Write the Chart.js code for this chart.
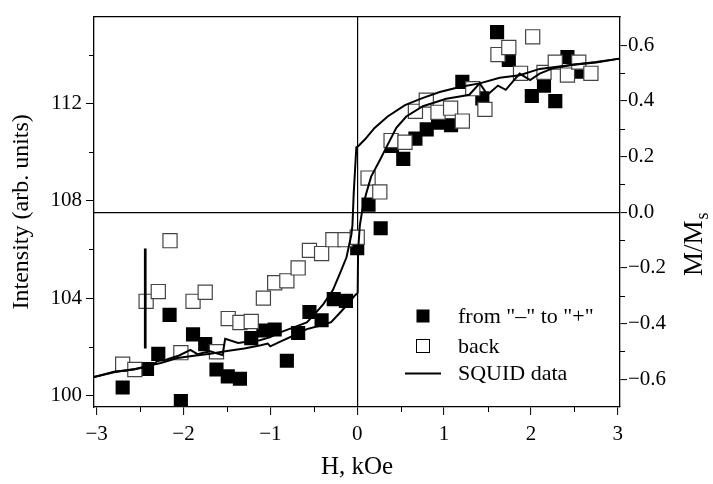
<!DOCTYPE html>
<html>
<head>
<meta charset="utf-8">
<script src="https://cdn.jsdelivr.net/npm/chart.js@4"></script>
<style>
body { margin: 0; background: #fff; }
#wrap { width: 713px; height: 484px; }
</style>
</head>
<body>
<div id="wrap"><canvas id="myChart" width="713" height="484"></canvas></div>
<script>
// filled squares, field swept from "-" to "+"
const upH = [-2.70, -2.42, -2.29, -2.16, -2.03, -1.89, -1.75, -1.62, -1.49, -1.35, -1.22, -1.08, -0.95, -0.81, -0.68, -0.55, -0.41, -0.27, -0.13, 0.00, 0.13, 0.27, 0.40, 0.53, 0.67, 0.80, 0.93, 1.08, 1.21, 1.44, 1.61, 1.745, 2.01, 2.15, 2.28, 2.42, 2.55];
const upI = [100.33, 101.09, 101.71, 103.31, 99.77, 102.51, 102.11, 101.07, 100.79, 100.69, 102.36, 102.67, 102.71, 101.43, 102.57, 103.43, 103.09, 103.96, 103.89, 106.05, 107.84, 106.87, 110.25, 109.72, 110.55, 110.93, 111.2, 111.1, 112.88, 112.2, 114.92, 113.78, 112.3, 112.72, 112.09, 113.9, 113.3];

// open squares, field swept back
const backH = [-2.70, -2.56, -2.43, -2.29, -2.155, -2.03, -1.89, -1.75, -1.62, -1.485, -1.35, -1.22, -1.08, -0.95, -0.81, -0.68, -0.55, -0.41, -0.28, -0.14, 0.00, 0.125, 0.26, 0.39, 0.55, 0.67, 0.795, 0.93, 1.075, 1.21, 1.33, 1.47, 1.62, 1.745, 1.88, 2.02, 2.15, 2.28, 2.42, 2.55, 2.69];
const backI = [101.29, 101.07, 103.87, 104.27, 106.36, 101.76, 103.87, 104.24, 101.8, 103.16, 103.0, 103.04, 104.0, 104.63, 104.71, 105.24, 105.96, 105.83, 106.4, 106.4, 106.5, 108.93, 108.36, 110.47, 110.4, 111.67, 112.13, 111.63, 111.8, 111.27, 112.6, 111.75, 114.0, 114.29, 113.23, 114.73, 113.27, 113.69, 113.16, 113.69, 113.23];

// SQUID loop (M/Ms), branch going from +3 down to -3
const sqDownH = [3.02, 2.75, 2.48, 2.10, 1.87, 1.64, 1.41, 1.18, 0.95, 0.75, 0.55, 0.35, 0.20, 0.09, 0.02, -0.01, -0.04, -0.055, -0.067, -0.124, -0.20, -0.28, -0.39, -0.50, -0.58, -0.73, -0.88, -1.00, -1.12, -1.23, -1.37, -1.52, -1.55, -1.64, -1.69, -1.77, -1.84, -1.92, -2.05, -2.2, -2.3, -2.38, -2.6, -2.8, -3.03];
const sqDownM = [0.552, 0.540, 0.530, 0.515, 0.492, 0.483, 0.463, 0.450, 0.432, 0.410, 0.385, 0.344, 0.303, 0.262, 0.240, 0.233, 0.07, -0.047, -0.08, -0.163, -0.221, -0.28, -0.33, -0.37, -0.396, -0.414, -0.431, -0.449, -0.46, -0.464, -0.47, -0.455, -0.513, -0.505, -0.50, -0.505, -0.51, -0.495, -0.515, -0.53, -0.535, -0.555, -0.565, -0.575, -0.592];

// SQUID loop, branch going from -3 up to +3
const sqUpH = [-3.03, -2.8, -2.57, -2.42, -2.26, -2.07, -1.88, -1.69, -1.50, -1.30, -1.11, -1.03, -1.00, -0.88, -0.73, -0.58, -0.41, -0.30, -0.18, -0.08, -0.03, 0.005, 0.01, 0.03, 0.067, 0.106, 0.16, 0.26, 0.335, 0.45, 0.565, 0.756, 1.025, 1.18, 1.29, 1.41, 1.50, 1.62, 1.71, 1.87, 1.99, 2.10, 2.25, 2.48, 2.75, 3.02];
const sqUpM = [-0.592, -0.573, -0.565, -0.553, -0.542, -0.524, -0.516, -0.509, -0.499, -0.49, -0.478, -0.472, -0.482, -0.464, -0.443, -0.42, -0.406, -0.395, -0.355, -0.32, -0.30, -0.29, -0.14, -0.047, 0.023, 0.07, 0.128, 0.187, 0.233, 0.303, 0.344, 0.381, 0.408, 0.416, 0.422, 0.463, 0.422, 0.455, 0.44, 0.498, 0.475, 0.498, 0.517, 0.530, 0.538, 0.552];

// error bar
const errH = [-2.44, -2.44];
const errI = [101.93, 106.04];

// ticks
const xTicks = [-3, -2, -1, 0, 1, 2, 3];
const xMinor = [-2.5, -1.5, -0.5, 0.5, 1.5, 2.5];
const leftTicks = [100, 104, 108, 112];
const leftMinor = [102, 106, 110, 114];
const rightTicks = [-0.6, -0.4, -0.2, 0, 0.2, 0.4, 0.6];
const rightMinor = [-0.5, -0.3, -0.1, 0.1, 0.3, 0.5];

const legendLabels = ['from "\u2013" to "+"', 'back', 'SQUID data'];

const FONT = "'Liberation Serif', 'Times New Roman', serif";
Chart.defaults.font.family = FONT;
Chart.defaults.color = '#000';

function pts(xs, ys) {
  return xs.map((x, i) => ({ x: x, y: ys[i] }));
}
function minus(s, v) {
  return (v < 0 ? '\u2212' : '') + s;
}
function zeroLine(c) {
  return c.tick && c.tick.value === 0 ? '#000' : 'rgba(0,0,0,0)';
}

const extras = {
  id: 'extras',
  afterDraw(chart) {
    const ctx = chart.ctx;
    const a = chart.chartArea;
    const sx = chart.scales.x, sy = chart.scales.y, sy2 = chart.scales.y2;
    ctx.save();
    ctx.strokeStyle = '#000';
    ctx.lineWidth = 1.3;
    ctx.beginPath();
    ctx.moveTo(a.left - 0.6, a.top);
    ctx.lineTo(a.right + 0.6, a.top);
    ctx.stroke();

    // minor ticks
    ctx.lineWidth = 1;
    ctx.beginPath();
    xMinor.forEach(v => {
      const p = Math.round(sx.getPixelForValue(v)) + 0.5;
      ctx.moveTo(p, a.bottom); ctx.lineTo(p, a.bottom + 5);
    });
    leftMinor.forEach(v => {
      const p = Math.round(sy.getPixelForValue(v)) + 0.5;
      ctx.moveTo(a.left - 5, p); ctx.lineTo(a.left, p);
    });
    rightMinor.forEach(v => {
      const p = Math.round(sy2.getPixelForValue(v)) + 0.5;
      ctx.moveTo(a.right, p); ctx.lineTo(a.right + 5, p);
    });
    ctx.stroke();

    // right axis title M/Ms
    ctx.fillStyle = '#000';
    ctx.translate(702, 276);
    ctx.rotate(-Math.PI / 2);
    ctx.font = '27px ' + FONT;
    ctx.textBaseline = 'alphabetic';
    ctx.textAlign = 'left';
    ctx.fillText('M/M', 0, 0);
    const w = ctx.measureText('M/M').width;
    ctx.font = '18px ' + FONT;
    ctx.fillText('s', w + 1, 6);
    ctx.restore();

    // legend
    ctx.save();
    const lx = 423, ly = [316, 346, 373.5];
    ctx.fillStyle = '#000';
    ctx.fillRect(lx - 6.5, ly[0] - 6.5, 13, 13);
    ctx.strokeStyle = '#000';
    ctx.lineWidth = 1;
    ctx.fillStyle = '#fff';
    ctx.fillRect(lx - 6.5, ly[1] - 6.5, 13, 13);
    ctx.strokeRect(lx - 6.5, ly[1] - 6.5, 13, 13);
    ctx.lineWidth = 2;
    ctx.beginPath();
    ctx.moveTo(405, ly[2]); ctx.lineTo(441, ly[2]);
    ctx.stroke();
    ctx.fillStyle = '#000';
    ctx.font = '22px ' + FONT;
    ctx.textBaseline = 'middle';
    legendLabels.forEach((t, i) => ctx.fillText(t, 458, ly[i] + 1));
    ctx.restore();
  }
};

const data = {
  datasets: [
    { label: 'squid down', data: pts(sqDownH, sqDownM), yAxisID: 'y2', showLine: true, borderColor: '#000', borderWidth: 2, pointRadius: 0, tension: 0 },
    { label: 'squid up', data: pts(sqUpH, sqUpM), yAxisID: 'y2', showLine: true, borderColor: '#000', borderWidth: 2, pointRadius: 0, tension: 0 },
    { label: 'error', data: pts(errH, errI), yAxisID: 'y', showLine: true, borderColor: '#000', borderWidth: 2.7, pointRadius: 0 },
    { label: 'back', data: pts(backH, backI), yAxisID: 'y', pointStyle: 'rect', pointRadius: 10, backgroundColor: '#fff', borderColor: '#444', borderWidth: 1.2 },
    { label: 'from - to +', data: pts(upH, upI), yAxisID: 'y', pointStyle: 'rect', pointRadius: 10, backgroundColor: '#000', borderColor: '#000', borderWidth: 0 }
  ]
};

const config = {
  type: 'scatter',
  data: data,
  options: {
    responsive: false,
    animation: false,
    layout: { padding: { top: 6, left: 0, right: 0, bottom: 0 } },
    plugins: { legend: { display: false }, tooltip: { enabled: false } },
    scales: {
      x: {
        type: 'linear', min: -3.03, max: 3.025,
        afterBuildTicks: s => { s.ticks = xTicks.map(v => ({ value: v })); },
        afterFit: s => { s.height = 77; },
        grid: { color: zeroLine, lineWidth: 1.2, tickColor: '#000', tickLength: 8, tickWidth: 1 },
        border: { color: '#000', width: 1.3 },
        ticks: { font: { size: 21 }, padding: 7, maxRotation: 0, autoSkip: false, callback: v => minus(String(Math.abs(v)), v) },
        title: { display: true, text: 'H, kOe', font: { size: 25 }, padding: { top: 0, bottom: 2 } }
      },
      y: {
        type: 'linear', position: 'left', min: 99.53, max: 115.56,
        afterBuildTicks: s => { s.ticks = leftTicks.map(v => ({ value: v })); },
        afterFit: s => { s.width = 94; },
        grid: { color: 'rgba(0,0,0,0)', tickColor: '#000', tickLength: 8, tickWidth: 1 },
        border: { color: '#000', width: 1.3 },
        ticks: { font: { size: 21 }, padding: 4, callback: v => String(v) },
        title: { display: true, text: 'Intensity (arb. units)', font: { size: 24 }, padding: { top: 7, bottom: 0 } }
      },
      y2: {
        type: 'linear', position: 'right', min: -0.700, max: 0.703,
        afterBuildTicks: s => { s.ticks = rightTicks.map(v => ({ value: v })); },
        afterFit: s => { s.width = 93; },
        grid: { color: zeroLine, lineWidth: 1.2, tickColor: '#000', tickLength: 7, tickWidth: 1 },
        border: { color: '#000', width: 1.3 },
        ticks: { font: { size: 21 }, padding: 1, callback: v => minus(Math.abs(v).toFixed(1), v) }
      }
    }
  },
  plugins: [extras]
};

const myChart = new Chart(document.getElementById('myChart'), config);
</script>
</body>
</html>
